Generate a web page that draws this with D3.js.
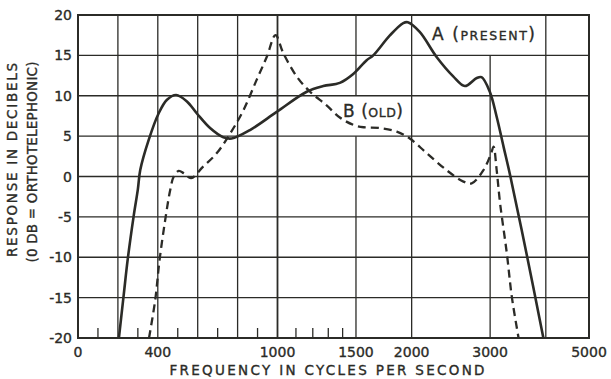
<!DOCTYPE html>
<html><head><meta charset="utf-8">
<script src="https://cdn.jsdelivr.net/npm/d3@7"></script>
<style>
html,body{margin:0;padding:0;background:#fff;}
svg{display:block;}
text{font-family:"DejaVu Sans",sans-serif;fill:#2b2b27;stroke:#2b2b27;stroke-width:0.35px;}
</style></head>
<body>
<svg id="chart" width="611" height="379"></svg>
<script>
// ---- data ----
const xTickLabels = [0, 400, 1000, 1500, 2000, 3000, 5000];
const xGridLines = [200, 400, 600, 800, 1000, 1500, 2000, 3000, 4000];
const xMinorTicks = [100, 300, 500, 700, 900, 1100, 1200, 1300, 1400];
const yTicks = [20, 15, 10, 5, 0, -5, -10, -15, -20];

const seriesAFreq = [205,229,249,279,300,312,354,404,446,492,546,596,662,729,770,862,996,1163,1267,1380,1479,1585,1640,1789,1915,1960,2085,2275,2479,2632,2799,2870,2995,3103,3215,3331,3619,3950];
const seriesADb   = [-20,-14.7,-10.3,-4.9,-1.6,0.8,4.5,7.8,9.5,10.1,9.3,7.8,6.0,4.85,4.7,5.75,8.0,10.5,11.2,11.6,12.7,14.4,15.0,17.5,19.0,19.1,17.9,14.8,12.4,11.2,12.2,12.3,10.5,7.4,3.7,0,-9.5,-20];

const seriesBFreq = [356,387,409,437,462,480,505,530,567,626,696,762,829,896,946,990,1030,1104,1183,1289,1380,1479,1560,1698,1852,1981,2161,2394,2607,2727,2899,3017,3054,3103,3158,3270,3356,3475];
const seriesBDb   = [-20,-15.3,-10.3,-5.4,-1.7,0,0.7,0.4,-0.2,1.2,2.9,5.3,8.2,12.0,14.8,17.5,15.3,12.4,10.5,8.8,7.3,6.4,6.1,6.0,5.55,4.7,2.9,0.8,-0.6,-0.85,0.8,2.9,3.7,0.8,-3.3,-9.5,-14.9,-20];

const labelA = "A (PRESENT)";
const labelB = "B (OLD)";
const xTitle = "FREQUENCY IN CYCLES PER SECOND";
const yTitle1 = "RESPONSE IN DECIBELS";
const yTitle2 = "(0 DB = ORTHOTELEPHONIC)";

// ---- scales ----
const L = 78, R = 589, T = 15, B = 338;
const xLin = d3.scaleLinear().domain([0, 1000]).range([L, 277.5]);
const xLog = d3.scaleLog().domain([1000, 5000]).range([277.5, R]);
const x = f => f <= 1000 ? xLin(f) : xLog(f);
const y = d3.scaleLinear().domain([-20, 20]).range([B, T]);

const ink = "#2b2b27";
const svg = d3.select("#chart");

// horizontal gridlines
svg.append("g").selectAll("line").data(yTicks.filter(v => v > -20 && v < 20)).join("line")
  .attr("x1", L).attr("x2", R).attr("y1", d => y(d)).attr("y2", d => y(d))
  .attr("stroke", ink).attr("stroke-width", 1.3);

// vertical gridlines (with breaks behind labels)
const vg = svg.append("g");
xGridLines.forEach(f => {
  let segs = [[T, B]];
  if (f === 3000) segs = [[y(15), B]];
  if (f === 1500) segs = [[T, y(10)], [y(5), B]];
  segs.forEach(s => vg.append("line")
    .attr("x1", x(f)).attr("x2", x(f)).attr("y1", s[0]).attr("y2", s[1])
    .attr("stroke", ink).attr("stroke-width", f === 1000 ? 1.8 : 1.3));
});

// minor ticks
svg.append("g").selectAll("line").data(xMinorTicks).join("line")
  .attr("x1", d => x(d)).attr("x2", d => x(d)).attr("y1", B).attr("y2", B - 10)
  .attr("stroke", ink).attr("stroke-width", 1.3);

// frame
svg.append("rect").attr("x", L).attr("y", T).attr("width", R - L).attr("height", B - T)
  .attr("fill", "none").attr("stroke", ink).attr("stroke-width", 2);

// curves
const line = d3.line().x(d => x(d[0])).y(d => y(d[1])).curve(d3.curveCatmullRom.alpha(0.5));
const dataA = seriesAFreq.map((f, i) => [f, seriesADb[i]]);
const dataB = seriesBFreq.map((f, i) => [f, seriesBDb[i]]);
svg.append("path").attr("d", line(dataA)).attr("fill", "none")
  .attr("stroke", ink).attr("stroke-width", 2.6).attr("stroke-linejoin", "round");
svg.append("path").attr("d", line(dataB)).attr("fill", "none")
  .attr("stroke", ink).attr("stroke-width", 2.3).attr("stroke-dasharray", "8,5");

// y tick labels
svg.append("g").selectAll("text").data(yTicks).join("text")
  .attr("x", 72).attr("y", d => y(d) + 5).attr("text-anchor", "end")
  .attr("font-size", 14).text(d => d < 0 ? "-" + Math.abs(d) : String(d));

// x tick labels
svg.append("g").selectAll("text").data(xTickLabels).join("text")
  .attr("x", d => x(d)).attr("y", 357).attr("text-anchor", "middle")
  .attr("font-size", 14).text(d => String(d));

// axis titles
svg.append("text").attr("x", 327).attr("y", 375).attr("text-anchor", "middle")
  .attr("font-size", 13.5).attr("textLength", 315).attr("lengthAdjust", "spacing").text(xTitle);
svg.append("text").attr("transform", "translate(17,160) rotate(-90)").attr("text-anchor", "middle")
  .attr("font-size", 13.5).attr("textLength", 194).attr("lengthAdjust", "spacing").text(yTitle1);
svg.append("text").attr("transform", "translate(37,162) rotate(-90)").attr("text-anchor", "middle")
  .attr("font-size", 13.5).attr("textLength", 201).attr("lengthAdjust", "spacing").text(yTitle2);

// series labels
function seriesLabel(txt, px, py, w) {
  const [letter, rest] = [txt.slice(0, 1), txt.slice(2)];
  const t = svg.append("text").attr("x", px).attr("y", py)
    .attr("textLength", w).attr("lengthAdjust", "spacing");
  t.append("tspan").attr("font-size", 17).text(letter + " ");
  t.append("tspan").attr("font-size", 17).text(rest.slice(0, 1));
  t.append("tspan").attr("font-size", 12.5).text(rest.slice(1, -1));
  t.append("tspan").attr("font-size", 17).text(rest.slice(-1));
}
seriesLabel(labelA, 432, 40, 103);
seriesLabel(labelB, 343, 117, 60);
</script>
</body></html>
